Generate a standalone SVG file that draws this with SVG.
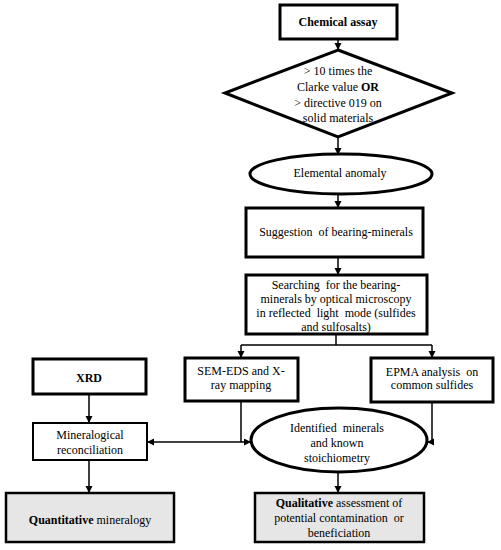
<svg xmlns="http://www.w3.org/2000/svg" width="501" height="550" viewBox="0 0 501 550" font-family="'Liberation Serif', 'Times New Roman', 'DejaVu Serif', serif">
<defs>
<marker id="ah" markerUnits="userSpaceOnUse" markerWidth="8" markerHeight="8" refX="7" refY="3.5" orient="auto">
<path d="M0,0 L7,3.5 L0,7 z" fill="#000"/>
</marker>
<style>
.n{fill:#fff;stroke:#000;stroke-width:2}
.t{fill:#fff;stroke:#000;stroke-width:3}
.g{fill:#e6e6e6;stroke:#000;stroke-width:2.5}
.c{fill:none;stroke:#000;stroke-width:1.5}
.a{marker-end:url(#ah)}
.x{font-size:12px;fill:#000;text-anchor:middle}
.b{font-weight:bold}
</style>
</defs>
<rect width="501" height="550" fill="#fff"/>
<g id="connectors">
<path class="c a" d="M338,39 V50"/>
<path class="c a" d="M338,137 V155"/>
<path class="c a" d="M338,194 V208"/>
<path class="c a" d="M338,257 V275"/>
<path class="c" d="M336,334 V345 M241,345 H432"/>
<path class="c a" d="M241,345 V358"/>
<path class="c a" d="M432,345 V358"/>
<path class="c a" d="M89,394 V423"/>
<path class="c" d="M241,401 V442"/>
<path class="c a" d="M241,442 H147"/>
<path class="c a" d="M241,442 H251"/>
<path class="c a" d="M432,402 V442 H427"/>
<path class="c a" d="M89,460 V493"/>
<path class="c a" d="M338,472 V493"/>
</g>
<g id="chemical-assay">
<rect class="t" x="280" y="5" width="117" height="34"/>
<text class="x b" x="338" y="26">Chemical assay</text>
</g>
<g id="criterion">
<polygon class="t" points="338,50 452,93 338,137 225,93"/>
<text class="x" x="338" y="75">&gt; 10 times the</text>
<text class="x" x="338" y="91">Clarke value <tspan class="b">OR</tspan></text>
<text class="x" x="338" y="107">&gt; directive 019 on</text>
<text class="x" x="338" y="122">solid materials</text>
</g>
<g id="elemental-anomaly">
<ellipse class="t" cx="341" cy="174" rx="91" ry="20"/>
<text class="x" x="340" y="177">Elemental anomaly</text>
</g>
<g id="suggestion">
<rect class="t" x="246" y="208" width="177" height="49"/>
<text class="x" x="336" y="236" xml:space="preserve">Suggestion  of bearing-minerals</text>
</g>
<g id="searching">
<rect class="t" x="246" y="275" width="181" height="59"/>
<text class="x" x="336" y="289" xml:space="preserve">Searching  for the bearing-</text>
<text class="x" x="336" y="303">minerals by optical microscopy</text>
<text class="x" x="336" y="316.5" xml:space="preserve">in reflected  light  mode (sulfides</text>
<text class="x" x="336" y="330.5">and sulfosalts)</text>
</g>
<g id="sem-eds">
<rect class="t" x="185" y="358" width="113" height="43"/>
<text class="x" x="241" y="375">SEM-EDS and X-</text>
<text class="x" x="241" y="389">ray mapping</text>
</g>
<g id="epma">
<rect class="t" x="371" y="358" width="122" height="44"/>
<text class="x" x="432" y="376" xml:space="preserve">EPMA analysis  on</text>
<text class="x" x="432" y="389">common sulfides</text>
</g>
<g id="xrd">
<rect class="t" x="33" y="359" width="113" height="35"/>
<text class="x b" x="89" y="382">XRD</text>
</g>
<g id="mineralogical-reconciliation">
<rect class="n" x="33" y="423" width="114" height="37"/>
<text class="x" x="90" y="439">Mineralogical</text>
<text class="x" x="90" y="454">reconciliation</text>
</g>
<g id="identified-minerals">
<ellipse class="t" cx="339" cy="440" rx="88" ry="32"/>
<text class="x" x="337" y="432" xml:space="preserve">Identified  minerals</text>
<text class="x" x="337" y="447">and known</text>
<text class="x" x="337" y="462">stoichiometry</text>
</g>
<g id="quantitative">
<rect class="g" x="6" y="493" width="168" height="49"/>
<text class="x" x="90" y="524"><tspan class="b">Quantitative</tspan> mineralogy</text>
</g>
<g id="qualitative">
<rect class="g" x="255" y="493" width="169" height="49"/>
<text class="x" x="339" y="507"><tspan class="b">Qualitative</tspan> assessment of</text>
<text class="x" x="339" y="522" xml:space="preserve">potential contamination  or</text>
<text class="x" x="339" y="537">beneficiation</text>
</g>
</svg>
